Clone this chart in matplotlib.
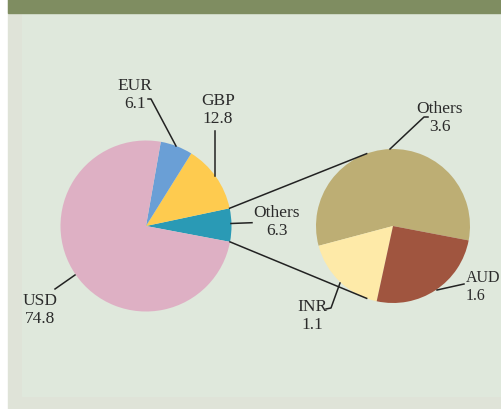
import numpy as np
import matplotlib.pyplot as plt
from matplotlib.patches import Rectangle

# data
main_labels = ['Others', 'GBP', 'EUR', 'USD']
main_values = [6.3, 12.8, 6.1, 74.8]
main_colors = ['#2a9ab5', '#fecb4f', '#6a9fd6', '#deb0c4']

sub_labels = ['Others', 'INR', 'AUD']
sub_values = [3.6, 1.1, 1.6]
sub_colors = ['#bdae74', '#feeaa8', '#a0553f']

W, H = 502, 410


def Y(y):
    # image pixel row -> data y
    return H - y


fig = plt.figure(figsize=(W / 100, H / 100), dpi=100)
ax = fig.add_axes([0, 0, 1, 1])

# background panels
ax.add_patch(Rectangle((8, 0), W - 8, H, color='#dfe3d8', zorder=0))
ax.add_patch(Rectangle((22, Y(397)), W - 22, 397 - 14, color='#dfe8dc', zorder=0))
ax.add_patch(Rectangle((8, Y(14)), W - 8, 14, color='#7f8d61', zorder=0))

c1, r1 = (146, Y(227)), 85.5
c2, r2 = (393, Y(227)), 77

w1, _ = ax.pie(main_values, colors=main_colors, startangle=-10.7, counterclock=True,
               center=c1, radius=r1, wedgeprops=dict(linewidth=0))
w2, _ = ax.pie(sub_values, colors=sub_colors, startangle=-10.8, counterclock=True,
               center=c2, radius=r2, wedgeprops=dict(linewidth=0))

# connection lines from the Others wedge to the second pie
lc = '#222222'
for th1, th2 in [(w1[0].theta2, 110), (w1[0].theta1, -110)]:
    a, b = np.radians(th1), np.radians(th2)
    ax.plot([c1[0] + r1 * np.cos(a), c2[0] + r2 * np.cos(b)],
            [c1[1] + r1 * np.sin(a), c2[1] + r2 * np.sin(b)],
            color=lc, lw=1.1, zorder=5)

# leader lines (image pixel coords)
leaders = [
    [(148, 100), (151, 100), (176, 147)],
    [(215, 132), (215, 177)],
    [(55, 290), (75, 276)],
    [(231, 224.5), (252, 223.7)],
    [(428, 118), (424, 118), (390, 150)],
    [(437, 291), (464, 285)],
    [(326, 310), (331, 309), (340, 284)],
]
for pts in leaders:
    xs = [p[0] for p in pts]
    ys = [Y(p[1]) for p in pts]
    ax.plot(xs, ys, color=lc, lw=1.1, zorder=5)

font = dict(family='Liberation Serif', fontsize=12.5, color='#2b2b2b',
            linespacing=1.15, zorder=6)
ax.text(135, Y(95), 'EUR\n' + str(main_values[2]), ha='center', va='center',
        multialignment='center', **font)
ax.text(218, Y(110), 'GBP\n' + str(main_values[1]), ha='center', va='center',
        multialignment='center', **font)
ax.text(40, Y(310), 'USD\n' + str(main_values[3]), ha='center', va='center',
        multialignment='center', **font)
ax.text(277, Y(222), 'Others\n' + str(main_values[0]), ha='center', va='center',
        multialignment='center', **font)
ax.text(440, Y(118), 'Others\n' + str(sub_values[0]), ha='center', va='center',
        multialignment='center', **font)
ax.text(465.5, Y(287), 'AUD\n' + str(sub_values[2]), ha='left', va='center',
        multialignment='left', **{**font, 'fontsize': 11.5})
ax.text(312, Y(316), 'INR\n' + str(sub_values[1]), ha='center', va='center',
        multialignment='center', **font)

ax.set_xlim(0, W)
ax.set_ylim(0, H)
ax.set_aspect('equal')
ax.axis('off')

fig.savefig('out.png', dpi=100, facecolor='white')
